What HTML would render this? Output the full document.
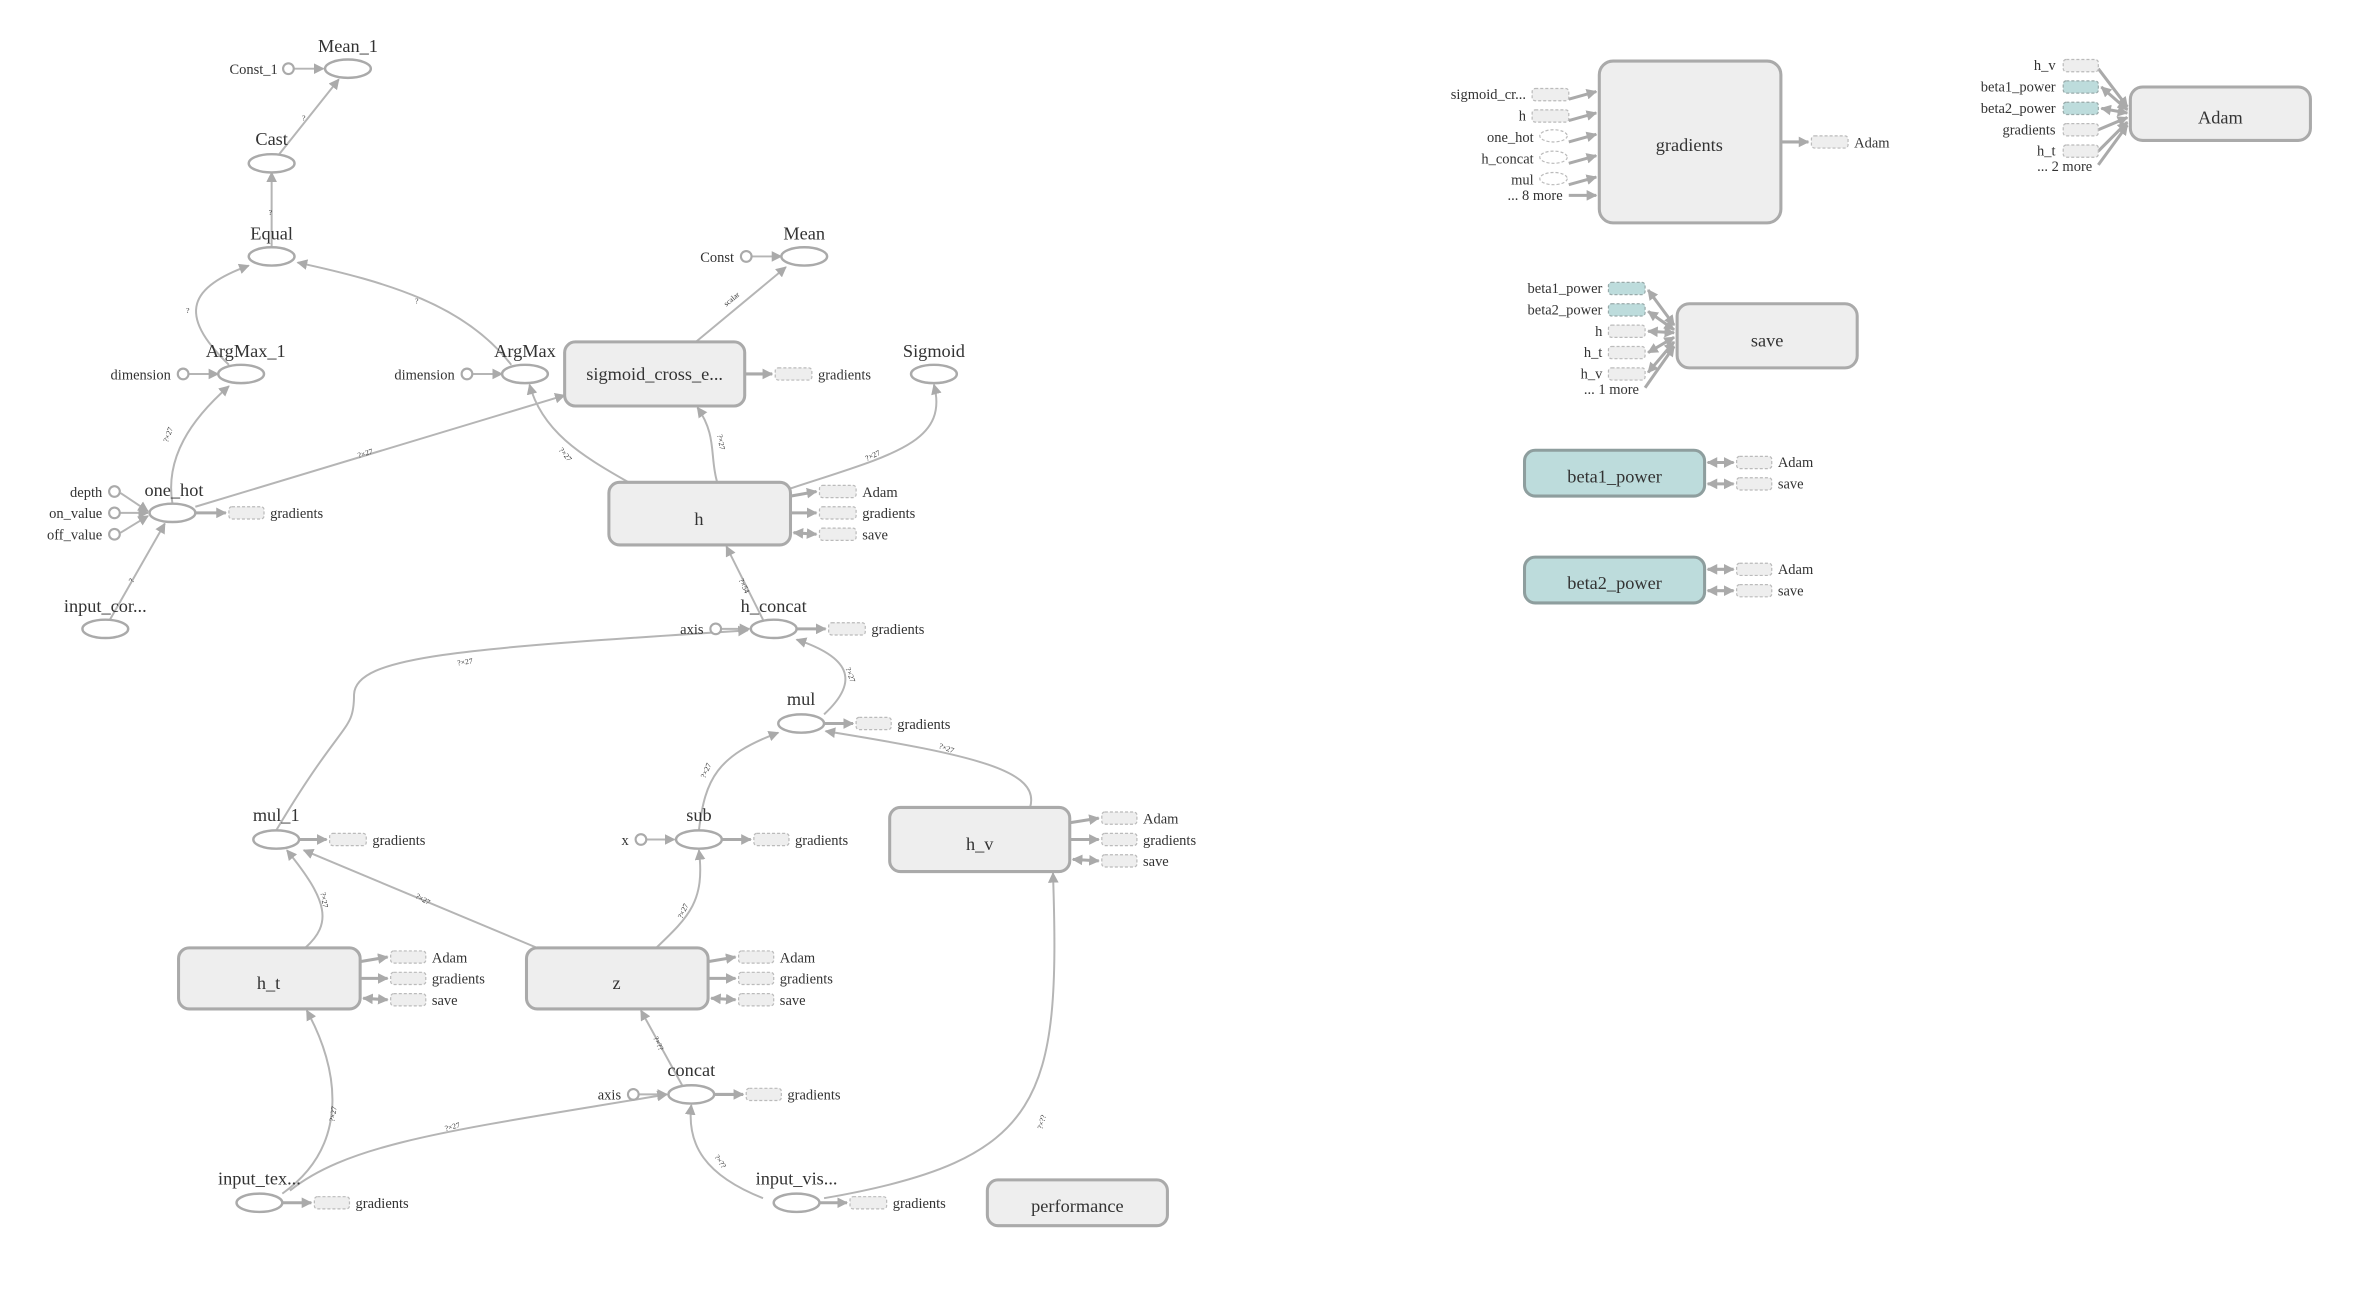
<!DOCTYPE html>
<html><head><meta charset="utf-8"><style>
html,body{margin:0;padding:0;background:#fff;width:2373px;height:1302px;overflow:hidden}
svg{display:block}
text{font-family:"Liberation Serif",serif;fill:#333}
.e{fill:#fff;stroke:#aaa;stroke-width:1.6}
.c{fill:#fff;stroke:#aaa;stroke-width:1.4}
.b{fill:#eee;stroke:#aaa;stroke-width:2}
.t{fill:#bddcdc;stroke:#8e9e9e;stroke-width:2}
.s{fill:#eee;stroke:#bbb;stroke-width:0.8;stroke-dasharray:2 1.3}
.st{fill:#bddcdc;stroke:#99aaaa;stroke-width:0.8;stroke-dasharray:2 1.3}
.se{fill:#fff;stroke:#bbb;stroke-width:0.8;stroke-dasharray:2 1.3}
.l{fill:none;stroke:#b5b5b5;stroke-width:1.3;marker-end:url(#a)}
.l2{fill:none;stroke:#aaa;stroke-width:2;marker-end:url(#a)}
.lb{fill:none;stroke:#aaa;stroke-width:2;marker-end:url(#a);marker-start:url(#a2)}
.n{font-size:12px;text-anchor:middle}
.m{font-size:9.5px}
.r{font-size:9.5px;text-anchor:end}
</style></head><body>
<svg width="2373" height="1302" viewBox="0 0 1555 853" preserveAspectRatio="none">
<defs>
<marker id="a" viewBox="0 0 10 10" refX="9" refY="5" markerWidth="7" markerHeight="7" markerUnits="userSpaceOnUse" orient="auto"><path d="M0,0L10,5L0,10z" fill="#aaa"/></marker>
<marker id="a2" viewBox="0 0 10 10" refX="1" refY="5" markerWidth="7" markerHeight="7" markerUnits="userSpaceOnUse" orient="auto"><path d="M10,0L0,5L10,10z" fill="#aaa"/></marker>
</defs>

<!-- edges left -->
<path class="l" d="M193,45L212,45"/>
<path class="l" d="M183,101L222,52"/>
<path class="l" d="M178,162L178,113"/>
<path class="l" d="M150,239C115,205 125,188 163,174"/>
<path class="l" d="M335,239C305,200 255,185 195,172"/>
<path class="l" d="M124,245L143,245"/>
<path class="l" d="M310,245L329,245"/>
<path class="l" d="M456,224L515,175"/>
<path class="l" d="M493,168L512,168"/>
<path class="l" d="M113,330C108,300 125,275 150,253"/>
<path class="l" d="M128,332L370,259"/>
<path class="l" d="M412,316C380,298 355,282 347,252"/>
<path class="l" d="M470,316C465,300 470,285 457,267"/>
<path class="l" d="M518,320C585,298 622,290 612,252"/>
<path class="l" d="M79,323L97,335"/>
<path class="l" d="M79,336L97,336"/>
<path class="l" d="M79,349L97,338"/>
<path class="l" d="M72,406L108,343"/>
<path class="l" d="M500,406L476,358"/>
<path class="l" d="M473,412L491,412"/>
<path class="l" d="M181,544C225,470 232,480 232,455C233,430 300,425 490,413"/>
<path class="l" d="M540,468C565,445 555,430 522,419"/>
<path class="l" d="M458,544C462,510 470,495 510,480"/>
<path class="l" d="M675,529C682,505 640,495 541,479"/>
<path class="l" d="M430,621C452,600 462,590 458,557"/>
<path class="l" d="M352,621L199,557"/>
<path class="l" d="M200,621C218,605 215,590 188,557"/>
<path class="l" d="M447,711L420,662"/>
<path class="l" d="M185,782C230,750 222,700 201,662"/>
<path class="l" d="M190,780C230,748 300,740 437,717"/>
<path class="l" d="M500,785C462,770 450,750 453,724"/>
<path class="l" d="M540,785C685,760 695,720 690,572"/>
<path class="l" d="M419,717L437,717"/>
<path class="l" d="M424,550L442,550"/>

<!-- tiny edge labels -->
<g font-size="5" fill="#999">
<text x="198" y="79">?</text><text x="176" y="141">?</text><text x="122" y="205">?</text><text x="272" y="199">?</text>
<text x="476" y="201" transform="rotate(-40 476 201)">scalar</text>
<text x="110" y="290" transform="rotate(-70 110 290)">?×27</text>
<text x="235" y="300" transform="rotate(-17 235 300)">?×27</text>
<text x="366" y="295" transform="rotate(50 366 295)">?×27</text>
<text x="470" y="285" transform="rotate(80 470 285)">?×27</text>
<text x="568" y="302" transform="rotate(-25 568 302)">?×27</text>
<text x="87" y="382" transform="rotate(-60 87 382)">?</text>
<text x="484" y="380" transform="rotate(65 484 380)">?×54</text>
<text x="300" y="436" transform="rotate(-8 300 436)">?×27</text>
<text x="554" y="438" transform="rotate(70 554 438)">?×27</text>
<text x="462" y="510" transform="rotate(-65 462 510)">?×27</text>
<text x="615" y="490" transform="rotate(20 615 490)">?×27</text>
<text x="210" y="585" transform="rotate(80 210 585)">?×27</text>
<text x="272" y="588" transform="rotate(30 272 588)">?×27</text>
<text x="447" y="602" transform="rotate(-65 447 602)">?×27</text>
<text x="428" y="680" transform="rotate(65 428 680)">?×??</text>
<text x="219" y="735" transform="rotate(-80 219 735)">?×27</text>
<text x="292" y="741" transform="rotate(-15 292 741)">?×27</text>
<text x="468" y="758" transform="rotate(55 468 758)">?×??</text>
<text x="683" y="740" transform="rotate(-75 683 740)">?×??</text>
</g>

<!-- stub arrows -->
<path class="l2" d="M488,245L506,245"/>
<path class="l2" d="M128,336L148,336"/>
<path class="l2" d="M518,325L535,322"/><path class="l2" d="M518,336L535,336"/><path class="lb" d="M520,349L535,350"/>
<path class="l2" d="M522,412L541,412"/>
<path class="l2" d="M540,474L559,474"/>
<path class="l2" d="M196,550L214,550"/>
<path class="l2" d="M473,550L492,550"/>
<path class="l2" d="M701,539L720,536"/><path class="l2" d="M701,550L720,550"/><path class="lb" d="M703,563L720,564"/>
<path class="l2" d="M236,630L254,627"/><path class="l2" d="M236,641L254,641"/><path class="lb" d="M238,654L254,655"/>
<path class="l2" d="M464,630L482,627"/><path class="l2" d="M464,641L482,641"/><path class="lb" d="M466,654L482,655"/>
<path class="l2" d="M468,717L487,717"/>
<path class="l2" d="M185,788L204,788"/>
<path class="l2" d="M537,788L555,788"/>

<!-- ellipse nodes -->
<ellipse class="e" cx="228" cy="45" rx="15" ry="6"/><text class="n" x="228" y="34">Mean_1</text>
<circle class="c" cx="189" cy="45" r="3.5"/><text class="r" x="182" y="48.5">Const_1</text>
<ellipse class="e" cx="178" cy="107" rx="15" ry="6"/><text class="n" x="178" y="95">Cast</text>
<ellipse class="e" cx="178" cy="168" rx="15" ry="6"/><text class="n" x="178" y="157">Equal</text>
<ellipse class="e" cx="158" cy="245" rx="15" ry="6"/><text class="n" x="161" y="234">ArgMax_1</text>
<circle class="c" cx="120" cy="245" r="3.5"/><text class="r" x="112" y="248.5">dimension</text>
<ellipse class="e" cx="344" cy="245" rx="15" ry="6"/><text class="n" x="344" y="234">ArgMax</text>
<circle class="c" cx="306" cy="245" r="3.5"/><text class="r" x="298" y="248.5">dimension</text>
<ellipse class="e" cx="527" cy="168" rx="15" ry="6"/><text class="n" x="527" y="157">Mean</text>
<circle class="c" cx="489" cy="168" r="3.5"/><text class="r" x="481" y="171.5">Const</text>
<ellipse class="e" cx="612" cy="245" rx="15" ry="6"/><text class="n" x="612" y="234">Sigmoid</text>
<ellipse class="e" cx="113" cy="336" rx="15" ry="6"/><text class="n" x="114" y="325">one_hot</text>
<circle class="c" cx="75" cy="322" r="3.5"/><text class="r" x="67" y="325.5">depth</text>
<circle class="c" cx="75" cy="336" r="3.5"/><text class="r" x="67" y="339.5">on_value</text>
<circle class="c" cx="75" cy="350" r="3.5"/><text class="r" x="67" y="353.5">off_value</text>
<ellipse class="e" cx="69" cy="412" rx="15" ry="6"/><text class="n" x="69" y="401">input_cor...</text>
<ellipse class="e" cx="507" cy="412" rx="15" ry="6"/><text class="n" x="507" y="401">h_concat</text>
<circle class="c" cx="469" cy="412" r="3.5"/><text class="r" x="461" y="415.5">axis</text>
<ellipse class="e" cx="525" cy="474" rx="15" ry="6"/><text class="n" x="525" y="462">mul</text>
<ellipse class="e" cx="181" cy="550" rx="15" ry="6"/><text class="n" x="181" y="538">mul_1</text>
<ellipse class="e" cx="458" cy="550" rx="15" ry="6"/><text class="n" x="458" y="538">sub</text>
<circle class="c" cx="420" cy="550" r="3.5"/><text class="r" x="412" y="553.5">x</text>
<ellipse class="e" cx="453" cy="717" rx="15" ry="6"/><text class="n" x="453" y="705">concat</text>
<circle class="c" cx="415" cy="717" r="3.5"/><text class="r" x="407" y="720.5">axis</text>
<ellipse class="e" cx="170" cy="788" rx="15" ry="6"/><text class="n" x="170" y="776">input_tex...</text>
<ellipse class="e" cx="522" cy="788" rx="15" ry="6"/><text class="n" x="522" y="776">input_vis...</text>

<!-- boxes -->
<rect class="b" x="370" y="224" width="118" height="42" rx="7"/><text class="n" x="429" y="249">sigmoid_cross_e...</text>
<rect class="b" x="399" y="316" width="119" height="41" rx="7"/><text class="n" x="458" y="344" font-size="19">h</text>
<rect class="b" x="583" y="529" width="118" height="42" rx="7"/><text class="n" x="642" y="557" font-size="18">h_v</text>
<rect class="b" x="117" y="621" width="119" height="40" rx="7"/><text class="n" x="176" y="648" font-size="18">h_t</text>
<rect class="b" x="345" y="621" width="119" height="40" rx="7"/><text class="n" x="404" y="648" font-size="18">z</text>
<rect class="b" x="647" y="773" width="118" height="30" rx="7"/><text class="n" x="706" y="794" font-size="18">performance</text>

<!-- stubs left -->
<rect class="s" x="508" y="241" width="24" height="8" rx="2"/><text class="m" x="536" y="248.5">gradients</text>
<rect class="s" x="150" y="332" width="23" height="8" rx="2"/><text class="m" x="177" y="339.5">gradients</text>
<rect class="s" x="537" y="318" width="24" height="8" rx="2"/><text class="m" x="565" y="325.5">Adam</text>
<rect class="s" x="537" y="332" width="24" height="8" rx="2"/><text class="m" x="565" y="339.5">gradients</text>
<rect class="s" x="537" y="346" width="24" height="8" rx="2"/><text class="m" x="565" y="353.5">save</text>
<rect class="s" x="543" y="408" width="24" height="8" rx="2"/><text class="m" x="571" y="415.5">gradients</text>
<rect class="s" x="561" y="470" width="23" height="8" rx="2"/><text class="m" x="588" y="477.5">gradients</text>
<rect class="s" x="216" y="546" width="24" height="8" rx="2"/><text class="m" x="244" y="553.5">gradients</text>
<rect class="s" x="494" y="546" width="23" height="8" rx="2"/><text class="m" x="521" y="553.5">gradients</text>
<rect class="s" x="722" y="532" width="23" height="8" rx="2"/><text class="m" x="749" y="539.5">Adam</text>
<rect class="s" x="722" y="546" width="23" height="8" rx="2"/><text class="m" x="749" y="553.5">gradients</text>
<rect class="s" x="722" y="560" width="23" height="8" rx="2"/><text class="m" x="749" y="567.5">save</text>
<rect class="s" x="256" y="623" width="23" height="8" rx="2"/><text class="m" x="283" y="630.5">Adam</text>
<rect class="s" x="256" y="637" width="23" height="8" rx="2"/><text class="m" x="283" y="644.5">gradients</text>
<rect class="s" x="256" y="651" width="23" height="8" rx="2"/><text class="m" x="283" y="658.5">save</text>
<rect class="s" x="484" y="623" width="23" height="8" rx="2"/><text class="m" x="511" y="630.5">Adam</text>
<rect class="s" x="484" y="637" width="23" height="8" rx="2"/><text class="m" x="511" y="644.5">gradients</text>
<rect class="s" x="484" y="651" width="23" height="8" rx="2"/><text class="m" x="511" y="658.5">save</text>
<rect class="s" x="489" y="713" width="23" height="8" rx="2"/><text class="m" x="516" y="720.5">gradients</text>
<rect class="s" x="206" y="784" width="23" height="8" rx="2"/><text class="m" x="233" y="791.5">gradients</text>
<rect class="s" x="557" y="784" width="24" height="8" rx="2"/><text class="m" x="585" y="791.5">gradients</text>

<!-- right: gradients -->
<rect class="b" x="1048" y="40" width="119" height="106" rx="9"/><text class="n" x="1107" y="99" font-size="18">gradients</text>
<path class="l2" d="M1028,65L1046,60"/><path class="l2" d="M1028,79L1046,74"/><path class="l2" d="M1028,93L1046,88"/>
<path class="l2" d="M1028,107L1046,102"/><path class="l2" d="M1028,121L1046,116"/><path class="l2" d="M1028,128L1046,128"/>
<rect class="s" x="1004" y="58" width="24" height="8" rx="2"/><text class="r" x="1000" y="65">sigmoid_cr...</text>
<rect class="s" x="1004" y="72" width="24" height="8" rx="2"/><text class="r" x="1000" y="79">h</text>
<ellipse class="se" cx="1018" cy="89" rx="9" ry="4"/><text class="r" x="1005" y="93">one_hot</text>
<ellipse class="se" cx="1018" cy="103" rx="9" ry="4"/><text class="r" x="1005" y="107">h_concat</text>
<ellipse class="se" cx="1018" cy="117" rx="9" ry="4"/><text class="r" x="1005" y="121">mul</text>
<text class="r" x="1024" y="131">... 8 more</text>
<path class="l2" d="M1167,93L1185,93"/>
<rect class="s" x="1187" y="89" width="24" height="8" rx="2"/><text class="m" x="1215" y="96.5">Adam</text>

<!-- Adam -->
<rect class="b" x="1396" y="57" width="118" height="35" rx="8"/><text class="n" x="1455" y="81" font-size="18">Adam</text>
<path class="l2" d="M1375,45L1394,70"/><path class="lb" d="M1377,57L1394,72"/><path class="lb" d="M1377,71L1394,74"/>
<path class="l2" d="M1375,85L1394,77"/><path class="l2" d="M1375,99L1394,80"/><path class="l2" d="M1375,108L1394,82"/>
<rect class="s" x="1352" y="39" width="23" height="8" rx="2"/><text class="r" x="1347" y="46">h_v</text>
<rect class="st" x="1352" y="53" width="23" height="8" rx="2"/><text class="r" x="1347" y="60">beta1_power</text>
<rect class="st" x="1352" y="67" width="23" height="8" rx="2"/><text class="r" x="1347" y="74">beta2_power</text>
<rect class="s" x="1352" y="81" width="23" height="8" rx="2"/><text class="r" x="1347" y="88">gradients</text>
<rect class="s" x="1352" y="95" width="23" height="8" rx="2"/><text class="r" x="1347" y="102">h_t</text>
<text class="r" x="1371" y="112">... 2 more</text>

<!-- save -->
<rect class="b" x="1099" y="199" width="118" height="42" rx="8"/><text class="n" x="1158" y="227" font-size="18">save</text>
<path class="lb" d="M1080,190L1097,213"/><path class="lb" d="M1080,204L1097,216"/><path class="lb" d="M1080,217L1097,218"/>
<path class="lb" d="M1080,231L1097,221"/><path class="lb" d="M1080,244L1097,224"/><path class="l2" d="M1078,254L1097,227"/>
<rect class="st" x="1054" y="185" width="24" height="8" rx="2"/><text class="r" x="1050" y="192">beta1_power</text>
<rect class="st" x="1054" y="199" width="24" height="8" rx="2"/><text class="r" x="1050" y="206">beta2_power</text>
<rect class="s" x="1054" y="213" width="24" height="8" rx="2"/><text class="r" x="1050" y="220">h</text>
<rect class="s" x="1054" y="227" width="24" height="8" rx="2"/><text class="r" x="1050" y="234">h_t</text>
<rect class="s" x="1054" y="241" width="24" height="8" rx="2"/><text class="r" x="1050" y="248">h_v</text>
<text class="r" x="1074" y="258">... 1 more</text>

<!-- beta powers -->
<rect class="t" x="999" y="295" width="118" height="30" rx="7"/><text class="n" x="1058" y="316" font-size="18">beta1_power</text>
<path class="lb" d="M1119,303L1136,303"/><path class="lb" d="M1119,317L1136,317"/>
<rect class="s" x="1138" y="299" width="23" height="8" rx="2"/><text class="m" x="1165" y="306">Adam</text>
<rect class="s" x="1138" y="313" width="23" height="8" rx="2"/><text class="m" x="1165" y="320">save</text>
<rect class="t" x="999" y="365" width="118" height="30" rx="7"/><text class="n" x="1058" y="386" font-size="18">beta2_power</text>
<path class="lb" d="M1119,373L1136,373"/><path class="lb" d="M1119,387L1136,387"/>
<rect class="s" x="1138" y="369" width="23" height="8" rx="2"/><text class="m" x="1165" y="376">Adam</text>
<rect class="s" x="1138" y="383" width="23" height="8" rx="2"/><text class="m" x="1165" y="390">save</text>
</svg>
</body></html>
